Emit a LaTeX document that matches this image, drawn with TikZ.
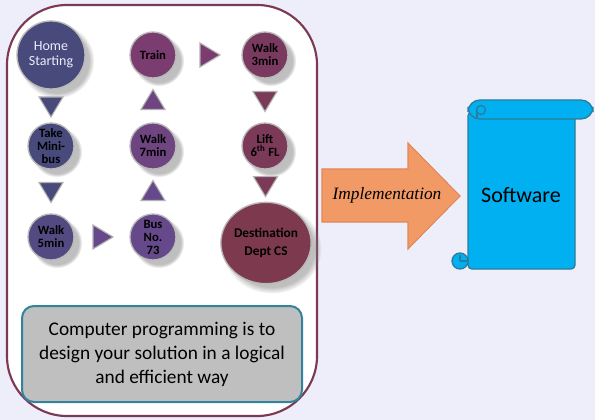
\documentclass[tikz,border=0pt]{standalone}
\usepackage{fontspec}
\setmainfont{Carlito}
\newfontfamily\serifit{Liberation Serif}
\usetikzlibrary{calc,shadows,shapes.geometric}
\definecolor{bgc}{HTML}{EEEEFB}
\definecolor{framec}{HTML}{7B3A52}
\definecolor{homec}{HTML}{474A7A}
\definecolor{trainc}{HTML}{7B3C70}
\definecolor{walkc}{HTML}{7A3A60}
\definecolor{walkBc}{HTML}{6E4580}
\definecolor{liftc}{HTML}{7A3A58}
\definecolor{walkCc}{HTML}{524A80}
\definecolor{busc}{HTML}{65498A}
\definecolor{destc}{HTML}{7D3A4E}
\definecolor{boxc}{HTML}{BFBFBF}
\definecolor{boxline}{HTML}{31849B}
\definecolor{arrowc}{HTML}{F29A66}
\definecolor{arrowline}{HTML}{E0875A}
\definecolor{scrollc}{HTML}{00B0F0}
\definecolor{scrollline}{HTML}{2A7D9C}
\tikzset{
  stop/.style={circle, draw=gray!55, line width=1pt, minimum size=34.5pt, inner sep=0pt,
    align=center, text=black, font=\bfseries\fontsize{9.5}{9.75}\selectfont,
    circular drop shadow={shadow xshift=4pt, shadow yshift=-4pt, opacity=0.5}},
  tri/.pic={\filldraw[pic actions, draw=gray!60, line width=0.8pt] (-12,-9) -- (12,-9) -- (0,11) -- cycle;},
  scrollpart/.style={fill=scrollc, draw=scrollline, line width=1pt}
}
\begin{document}
\begin{tikzpicture}[x=0.75pt, y=-0.75pt]
			\fill[bgc] (0,0) rectangle (595,420);
			\useasboundingbox (0,0) rectangle (595,420);
			\draw[framec, line width=1.6pt, fill=white, rounded corners=45] (7,5) rectangle (317,416);

			\node[stop, fill=homec, minimum size=51pt, text=white!92!blue, font=\fontsize{10.5}{11.5}\selectfont] (home) at (51,55) {Home\\Starting};
			\node[stop, fill=trainc] (train) at (153,55) {Train};
			\node[stop, fill=walkc] (walkA) at (265,55) {Walk\\3min};
			\node[stop, fill=homec] (minibus) at (51,146) {Take\\Mini-\\bus};
			\node[stop, fill=walkBc] (walkB) at (153,146) {Walk\\7min};
			\node[stop, fill=liftc] (lift) at (265,146) {Lift\\6\textsuperscript{th} FL};
			\node[stop, fill=walkCc] (walkC) at (51,237) {Walk\\5min};
			\node[stop, fill=busc] (bus) at (153,237) {Bus\\No.\\73};
			\node[stop, ellipse, fill=destc, minimum width=67pt, minimum height=61pt, font=\bfseries\fontsize{10}{13}\selectfont] (dest) at (266,243) {Destination\\Dept CS};

			\pic[fill=homec] at ($(home.south)!0.5!(minibus.north)$) {tri};
			\pic[fill=homec] at ($(minibus.south)!0.5!(walkC.north)$) {tri};
			\pic[fill=busc, rotate=90] at ($(walkC.east)!0.5!(bus.west)$) {tri};
			\pic[fill=busc, rotate=180] at ($(bus.north)!0.5!(walkB.south)$) {tri};
			\pic[fill=walkBc, rotate=180] at ($(walkB.north)!0.5!(train.south)$) {tri};
			\pic[fill=trainc, rotate=90] at ($(train.east)!0.5!(walkA.west)$) {tri};
			\pic[fill=liftc] at ($(walkA.south)!0.5!(lift.north)$) {tri};
			\pic[fill=liftc] at ($(lift.south)!0.5!(dest.north)$) {tri};

			\node[draw=boxline, fill=boxc, line width=1.5pt, rounded corners=9pt, minimum width=210pt, minimum height=72pt,
				align=center, font=\fontsize{14.5}{18}\selectfont] (idea) at (162,354) {Computer programming is to\\design your solution in a logical\\and efficient way};

			\filldraw[fill=arrowc, draw=arrowline, line width=0.8pt] (322,169) -- (408,169) -- (408,143) -- (460,196) -- (408,249) -- (408,222) -- (322,222) -- cycle;
			\node[font=\serifit\itshape\fontsize{13}{15}\selectfont] (impl) at (387,195) {Implementation};

			\filldraw[scrollpart, rounded corners=3] (468,112) rectangle (575,269);
			\filldraw[scrollpart, rounded corners=9] (468,100) rectangle (593,119);
			\draw[scrollline, line width=1pt] (481,110) circle (4.5);
			\draw[scrollline, line width=1pt] (477,119) -- (477,111);
			\filldraw[scrollpart] (460,261) circle (8);
			\draw[scrollline, line width=1pt] (460,261) -- (467,261) (460,261) -- (460,255);
			\node[font=\fontsize{16.5}{20}\selectfont] (soft) at (521,195) {Software};
\end{tikzpicture}
\end{document}
